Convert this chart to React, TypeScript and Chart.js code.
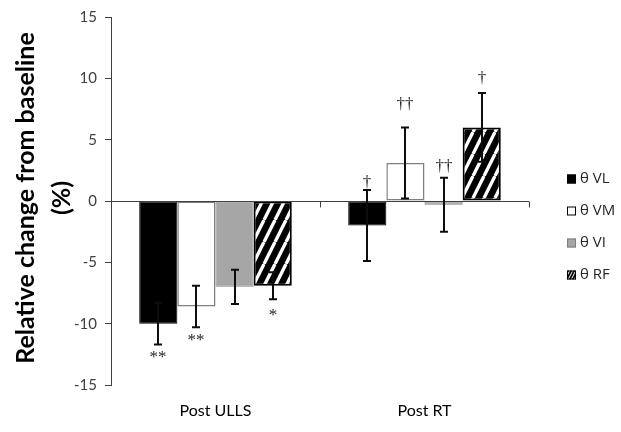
import React, { useEffect, useRef } from "react";
import { Chart, registerables } from "chart.js";

Chart.register(...registerables);

const categories = ["Post ULLS", "Post RT"];
const seriesLabels = ["θ VL", "θ VM", "θ VI", "θ RF"];

const vlValues = [-10.0, -2.0];
const vmValues = [-8.6, 3.1];
const viValues = [-7.0, -0.3];
const rfValues = [-6.9, 6.0];

const vlErrors = [1.7, 2.9];
const vmErrors = [1.7, 2.9];
const viErrors = [1.4, 2.2];
const rfErrors = [1.1, 2.8];

// significance marks per series, per category, and the value where each sits
const vlMarks = ["**", "†"];
const vmMarks = ["**", "††"];
const viMarks = ["", "††"];
const rfMarks = ["*", "†"];
const vlMarkAt = [-12.8, 1.5];
const vmMarkAt = [-11.4, 7.9];
const viMarkAt = [0, 2.8];
const rfMarkAt = [-9.3, 10.0];

const yTicks = [-15, -10, -5, 0, 5, 10, 15];
const yTitle = ["Relative change from baseline", "(%)"];

function makeHatch(w: number, lw: number): CanvasPattern | string {
  const c = document.createElement("canvas");
  const h = w * 2;
  c.width = w;
  c.height = h;
  const g = c.getContext("2d");
  if (!g) return "#000";
  g.fillStyle = "#000";
  g.fillRect(0, 0, w, h);
  g.strokeStyle = "#fff";
  g.lineWidth = lw;
  for (let k = -1; k <= 1; k++) {
    g.beginPath();
    g.moveTo(k * w, h);
    g.lineTo(k * w + w, 0);
    g.stroke();
  }
  const p = g.createPattern(c, "repeat");
  return p || "#000";
}

export default function App() {
  const ref = useRef<HTMLCanvasElement | null>(null);

  useEffect(() => {
    document.body.style.margin = "0";
    const canvas = ref.current;
    if (!canvas) return;
    const hatch = makeHatch(11, 3.4);
    const smallHatch = makeHatch(3, 1);

    const values = [vlValues, vmValues, viValues, rfValues];
    const errors = [vlErrors, vmErrors, viErrors, rfErrors];
    const marks = [vlMarks, vmMarks, viMarks, rfMarks];
    const markAt = [vlMarkAt, vmMarkAt, viMarkAt, rfMarkAt];
    const fills: (string | CanvasPattern)[] = ["#000000", "#ffffff", "#a6a6a6", hatch];
    const legendFills: (string | CanvasPattern)[] = ["#000000", "#ffffff", "#a6a6a6", smallHatch];
    const borders = ["#000000", "#7f7f7f", "#808080", "#000000"];
    const borderWidths = [1, 1.5, 1, 2];

    const overlay = {
      id: "overlay",
      afterDatasetsDraw(chart: any) {
        const ctx = chart.ctx as CanvasRenderingContext2D;
        const xs = chart.scales.x;
        const ys = chart.scales.y;
        const area = chart.chartArea;
        ctx.save();
        // zero axis line
        const y0 = Math.round(ys.getPixelForValue(0)) + 0.5;
        ctx.strokeStyle = "#404040";
        ctx.lineWidth = 1;
        ctx.beginPath();
        ctx.moveTo(area.left, y0);
        ctx.lineTo(area.right, y0);
        ctx.stroke();
        // category boundary ticks
        const bounds: number[] = [];
        for (let i = 0; i < categories.length - 1; i++) {
          bounds.push((xs.getPixelForValue(i) + xs.getPixelForValue(i + 1)) / 2);
        }
        bounds.push(area.right - 0.5);
        for (const b of bounds) {
          const bx = Math.round(b) + 0.5;
          ctx.beginPath();
          ctx.moveTo(bx, y0);
          ctx.lineTo(bx, y0 + 6);
          ctx.stroke();
        }
        // error bars
        ctx.strokeStyle = "#0d0d0d";
        ctx.lineWidth = 2;
        chart.data.datasets.forEach((ds: any, di: number) => {
          const meta = chart.getDatasetMeta(di);
          meta.data.forEach((bar: any, i: number) => {
            const v = values[di][i];
            const e = errors[di][i];
            const x = Math.round(bar.x);
            const yt = ys.getPixelForValue(v + e);
            const yb = ys.getPixelForValue(v - e);
            ctx.beginPath();
            ctx.moveTo(x, yt);
            ctx.lineTo(x, yb);
            ctx.moveTo(x - 4, yt);
            ctx.lineTo(x + 4, yt);
            ctx.moveTo(x - 4, yb);
            ctx.lineTo(x + 4, yb);
            ctx.stroke();
            const m = marks[di][i];
            if (m) {
              ctx.fillStyle = "#262626";
              ctx.font = "17px 'Liberation Serif'";
              ctx.textAlign = "center";
              ctx.textBaseline = "middle";
              ctx.fillText(m, x, ys.getPixelForValue(markAt[di][i]));
            }
          });
        });
        // legend
        ctx.font = "15px 'Open Sans'";
        ctx.textAlign = "left";
        ctx.textBaseline = "middle";
        const legY = [179, 211, 243, 275];
        seriesLabels.forEach((lab, i) => {
          const ly = legY[i];
          ctx.fillStyle = legendFills[i] as any;
          ctx.fillRect(567, ly - 4.5, 9, 9);
          ctx.strokeStyle = i === 2 ? "#808080" : "#000";
          ctx.lineWidth = 1;
          ctx.strokeRect(567.5, ly - 4, 8, 8);
          ctx.fillStyle = "#262626";
          ctx.fillText(lab, 580, ly);
        });
        // y axis title
        ctx.fillStyle = "#000";
        ctx.font = "bold 25px Lato";
        ctx.textAlign = "center";
        ctx.textBaseline = "middle";
        const cy = (area.top + area.bottom) / 2 - 3;
        const lineX = [26, 62];
        yTitle.forEach((t, i) => {
          ctx.save();
          ctx.translate(lineX[i], cy);
          ctx.rotate(-Math.PI / 2);
          ctx.fillText(t, 0, 0);
          ctx.restore();
        });
        ctx.restore();
      },
    };

    const chart = new Chart(canvas, {
      type: "bar",
      data: {
        labels: categories,
        datasets: seriesLabels.map((lab, i) => ({
          label: lab,
          data: values[i],
          backgroundColor: fills[i] as any,
          borderColor: borders[i],
          borderWidth: borderWidths[i],
          borderSkipped: false,
          categoryPercentage: 0.73,
          barPercentage: 1.0,
        })),
      },
      options: {
        responsive: false,
        animation: false,
        layout: { padding: { top: 15, right: 92, left: 0, bottom: 0 } },
        plugins: {
          legend: { display: false },
          tooltip: { enabled: false },
          title: { display: false },
        },
        scales: {
          x: {
            grid: { display: false, drawTicks: false },
            border: { display: false },
            ticks: {
              padding: 16,
              color: "#000",
              font: { family: "Lato", size: 16 },
            },
            afterFit: (s: any) => {
              s.height = 47;
            },
          },
          y: {
            min: -15,
            max: 15,
            afterBuildTicks: (s: any) => {
              s.ticks = yTicks.map((v) => ({ value: v }));
            },
            grid: {
              drawOnChartArea: false,
              drawTicks: true,
              tickLength: 6,
              tickColor: "#404040",
              color: "#404040",
            },
            border: { display: true, color: "#404040", width: 1 },
            ticks: {
              padding: 8,
              color: "#404040",
              font: { family: "Lato", size: 15 },
            },
            afterFit: (s: any) => {
              s.width = 111;
            },
          },
        },
      },
      plugins: [overlay],
    });

    return () => chart.destroy();
  }, []);

  return (
    <div style={{ width: 621, height: 432 }}>
      <canvas ref={ref} width={621} height={432} />
    </div>
  );
}
